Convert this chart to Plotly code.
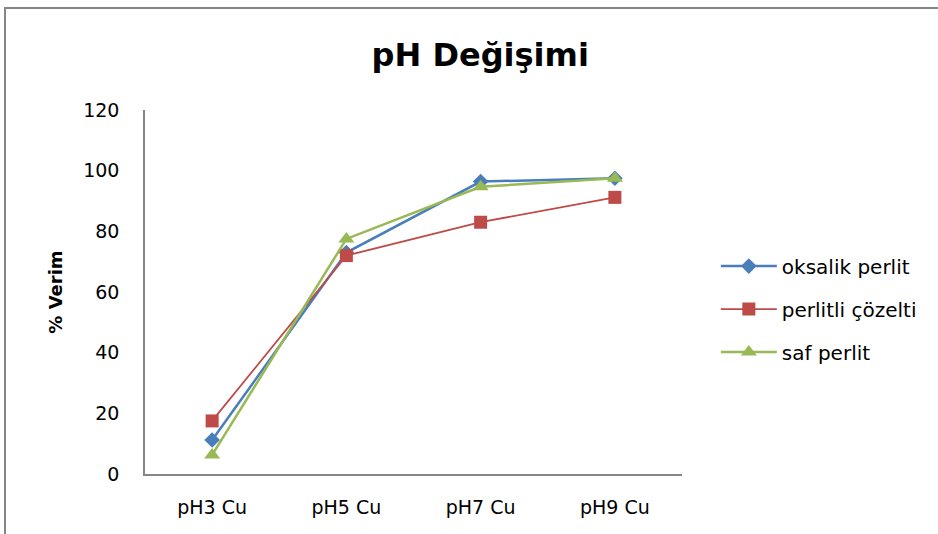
import plotly.graph_objects as go

categories = ["pH3 Cu", "pH5 Cu", "pH7 Cu", "pH9 Cu"]
oksalik = [11.2, 73.0, 96.4, 97.5]
perlitli = [17.5, 72.0, 83.0, 91.2]
saf = [6.3, 77.5, 94.7, 97.5]
y_ticks = [0, 20, 40, 60, 80, 100, 120]

FONT = "DejaVu Sans, sans-serif"

fig = go.Figure()
fig.add_trace(go.Scatter(x=categories, y=oksalik, name="oksalik perlit", mode="lines+markers",
                         legendgroup="a",
                         line=dict(color="#4a7ebb", width=2.5),
                         marker=dict(symbol="diamond", size=12, color="#4a7ebb")))
fig.add_trace(go.Scatter(x=categories, y=perlitli, name="perlitli çözelti", mode="lines+markers",
                         legendgroup="b",
                         line=dict(color="#be4b48", width=1.8),
                         marker=dict(symbol="square", size=13, color="#be4b48")))
fig.add_trace(go.Scatter(x=categories, y=saf, name="saf perlit", mode="lines+markers",
                         legendgroup="c",
                         line=dict(color="#98b954", width=2.5),
                         marker=dict(symbol="triangle-up", size=14, color="#98b954")))

fig.update_layout(
    width=938, height=534,
    paper_bgcolor="white", plot_bgcolor="white",
    margin=dict(l=145, r=256, t=110, b=60),
    font=dict(family=FONT, size=19, color="black"),
    title=dict(text="<b>pH Değişimi</b>", x=0.512, xanchor="center", y=0.897, yanchor="middle",
               font=dict(family=FONT, size=32, color="black")),
    xaxis=dict(type="category", range=[-0.5, 3.5], showline=True, linecolor="#868686", linewidth=1.5,
               showgrid=False, ticks="", ticklabelstandoff=15,
               tickfont=dict(family=FONT, size=19)),
    yaxis=dict(range=[0, 120], tickvals=y_ticks, showline=True, linecolor="#868686", linewidth=1.5,
               showgrid=False, zeroline=False, ticks="", ticklabelstandoff=20,
               tickfont=dict(family=FONT, size=19),
               title=dict(text="<b>% Verim</b>", standoff=16,
                          font=dict(family=FONT, size=18))),
    legend=dict(x=1.063, y=0.453, xanchor="left", yanchor="middle", tracegroupgap=14,
                font=dict(family=FONT, size=20), itemwidth=56,
                bgcolor="rgba(0,0,0,0)"),
    shapes=[dict(type="rect", xref="paper", yref="paper", x0=-0.2607, y0=-0.3, x1=1.6, y1=1.2802,
                 line=dict(color="#868686", width=2), fillcolor="rgba(0,0,0,0)", layer="below")],
)
fig.write_html("out.html", config={"displayModeBar": False},
               post_script="document.body.style.margin='0';")
